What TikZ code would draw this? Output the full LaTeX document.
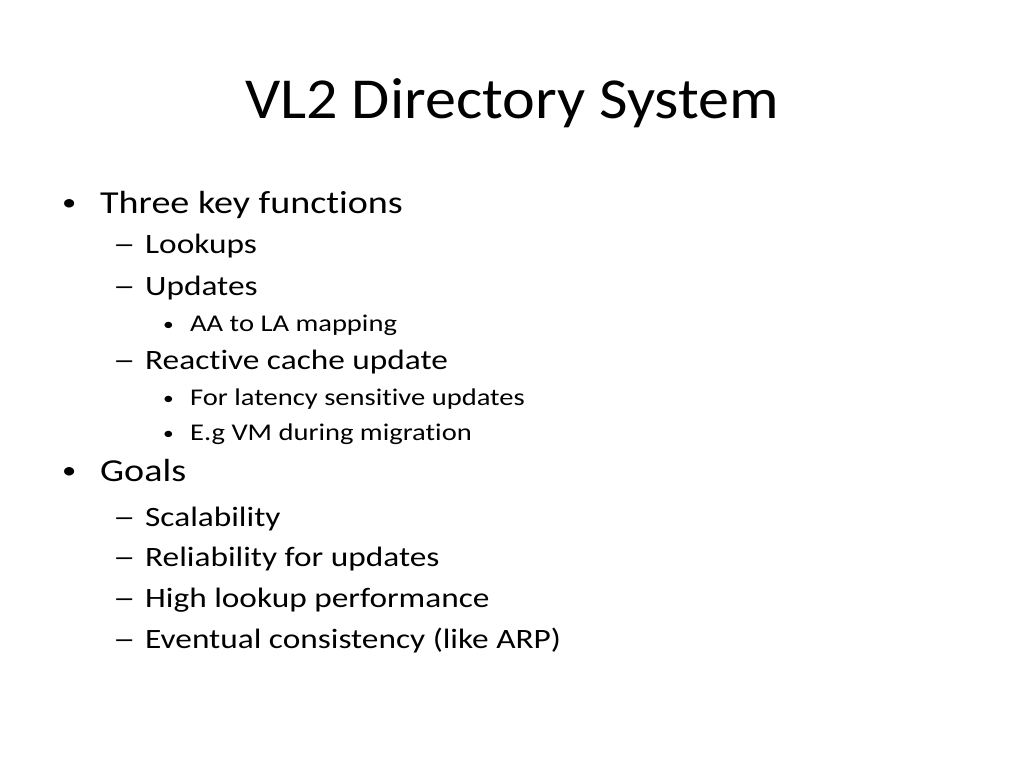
\documentclass[tikz,border=0pt]{standalone}
\usepackage{fontspec}
\setmainfont[FakeStretch=1.19,RawFeature=-liga]{Carlito}
\newfontfamily\titlefont[FakeStretch=1.07]{Carlito}
\newfontfamily\dashfont[FakeStretch=1.6]{Carlito}
\begin{document}
\begin{tikzpicture}[x=1pt,y=-1pt,
  t/.style={anchor=base west,inner sep=0pt},
  la/.style={t,font=\fontsize{32}{36}\selectfont},
  lb/.style={t,font=\fontsize{28}{32}\selectfont},
  lc/.style={t,font=\fontsize{24}{28}\selectfont},
  bul/.style={t,font=\fontsize{24}{28}\selectfont},
  bulc/.style={t,font=\fontsize{18}{28}\selectfont},
  dsh/.style={t,font=\dashfont\fontsize{28}{32}\selectfont}]
\useasboundingbox (0,0) rectangle (1024,768);
\node[anchor=base,inner sep=0pt,font=\titlefont\fontsize{58}{64}\selectfont] (title) at (512,118) {VL2 Directory System};
\node[bul] (b1) at (62,210) {•}; \node[la] (t1) at (100,213) {Three key functions};
\node[dsh] (d1) at (113,253) {–}; \node[lb] (t2) at (145,253) {Lookups};
\node[dsh] (d2) at (113,295) {–}; \node[lb] (t3) at (145,295) {Updates};
\node[bulc] (c1) at (163,330) {•}; \node[lc] (t4) at (190,331) {AA to LA mapping};
\node[dsh] (d3) at (113,369) {–}; \node[lb] (t5) at (145,369) {Reactive cache update};
\node[bulc] (c2) at (163,404) {•}; \node[lc] (t6) at (190,405) {For latency sensitive updates};
\node[bulc] (c3) at (163,439) {•}; \node[lc] (t7) at (190,440) {E.g VM during migration};
\node[bul] (b2) at (62,478) {•}; \node[la] (t8) at (100,481) {Goals};
\node[dsh] (d4) at (113,526) {–}; \node[lb] (t9) at (145,526) {Scalability};
\node[dsh] (d5) at (113,566) {–}; \node[lb] (t10) at (145,566) {Reliability for updates};
\node[dsh] (d6) at (113,607) {–}; \node[lb] (t11) at (145,607) {High lookup performance};
\node[dsh] (d7) at (113,648) {–}; \node[lb] (t12) at (145,648) {Eventual consistency (like ARP)};
\end{tikzpicture}
\end{document}
